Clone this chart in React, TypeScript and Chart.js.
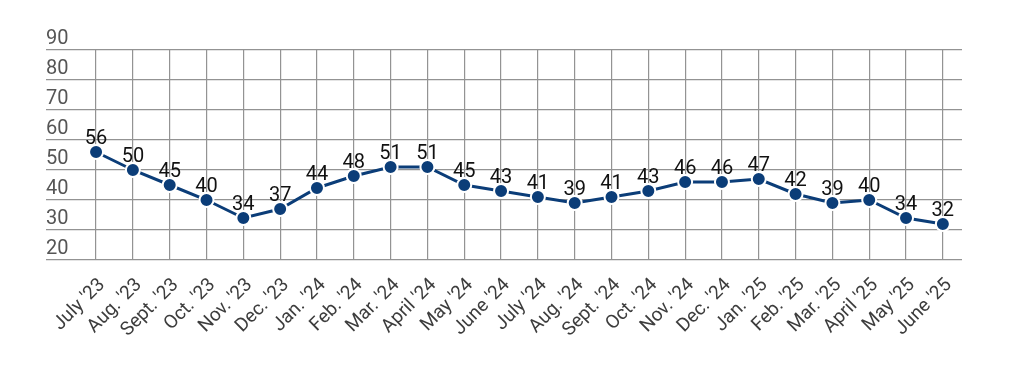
import React, { useEffect, useRef } from "react";
import { Chart, registerables } from "chart.js";

Chart.register(...registerables);

const categories = [
  "July '23", "Aug. '23", "Sept. '23", "Oct. '23", "Nov. '23", "Dec. '23",
  "Jan. '24", "Feb. '24", "Mar. '24", "April '24", "May '24", "June '24",
  "July '24", "Aug. '24", "Sept. '24", "Oct. '24", "Nov. '24", "Dec. '24",
  "Jan. '25", "Feb. '25", "Mar. '25", "April '25", "May '25", "June '25",
];
const values = [56, 50, 45, 40, 34, 37, 44, 48, 51, 51, 45, 43, 41, 39, 41, 43, 46, 46, 47, 42, 39, 40, 34, 32];
const yTicks = [20, 30, 40, 50, 60, 70, 80, 90];

const NAVY = "#0b3d78";
const FONT = "Roboto";

const dataLabels = {
  id: "dataLabels",
  afterDatasetsDraw(chart: any) {
    const ctx = chart.ctx;
    const meta = chart.getDatasetMeta(0);
    ctx.save();
    ctx.font = `20px ${FONT}`;
    ctx.fillStyle = "#111";
    ctx.textAlign = "center";
    ctx.textBaseline = "alphabetic";
    meta.data.forEach((pt: any, i: number) => {
      ctx.fillText(String(values[i]), pt.x, pt.y - 8);
    });
    ctx.restore();
  },
};

export default function App() {
  const ref = useRef<HTMLCanvasElement>(null);
  useEffect(() => {
    document.body.style.margin = "0";
    const chart = new Chart(ref.current!, {
      type: "line",
      data: {
        datasets: [
          {
            data: values.map((v, i) => ({ x: i, y: v })),
            borderColor: NAVY,
            borderWidth: 3,
            backgroundColor: NAVY,
            pointBackgroundColor: NAVY,
            pointBorderColor: "#fff",
            pointBorderWidth: 2,
            pointRadius: 7,
            tension: 0,
          },
        ],
      },
      options: {
        animation: false,
        responsive: false,
        layout: { padding: { left: 46, right: 52, top: 50, bottom: 0 } },
        plugins: { legend: { display: false }, tooltip: { enabled: false } },
        scales: {
          x: {
            type: "linear",
            min: -1.36,
            max: 23.52,
            afterBuildTicks: (s: any) => {
              s.ticks = categories.map((_, i) => ({ value: i }));
            },
            afterFit: (s: any) => {
              s.height = 109;
            },
            border: { display: false },
            grid: { color: "#939393", lineWidth: 1.2, drawTicks: false },
            ticks: {
              autoSkip: false,
              maxRotation: 45,
              minRotation: 45,
              padding: 14,
              labelOffset: 6,
              color: "#3d3d3d",
              font: { family: FONT, size: 19 },
              callback: (v: any) => categories[v] ?? "",
            },
          },
          y: {
            min: 20,
            max: 90,
            afterBuildTicks: (s: any) => {
              s.ticks = yTicks.map((v) => ({ value: v }));
            },
            border: { display: false },
            grid: { color: "#939393", lineWidth: 1.2, drawTicks: false },
            ticks: {
              mirror: true,
              padding: 0,
              labelOffset: -11,
              color: "#555",
              font: { family: FONT, size: 20 },
            },
          },
        },
      },
      plugins: [dataLabels],
    });
    return () => chart.destroy();
  }, []);
  return <canvas ref={ref} width={1014} height={369} />;
}
